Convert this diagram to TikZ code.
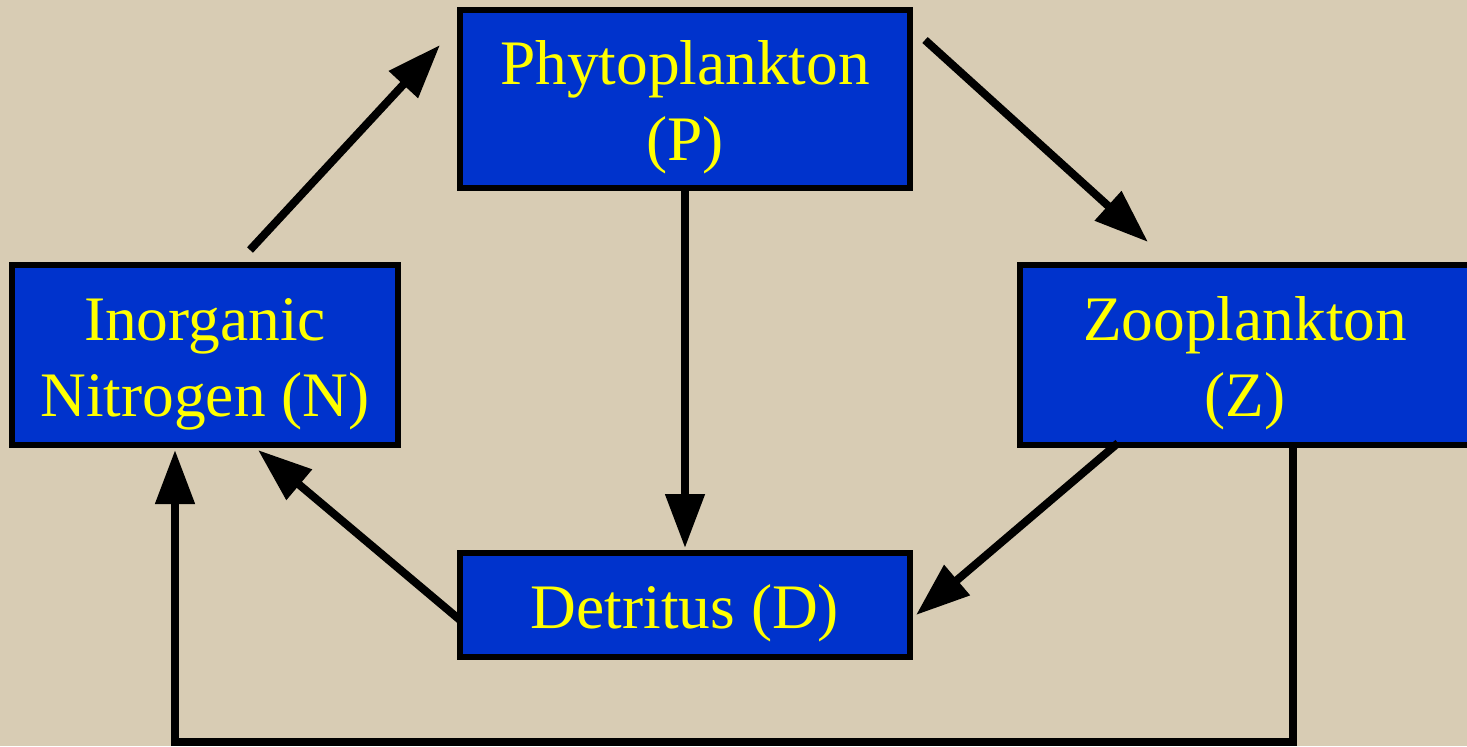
\documentclass[tikz,border=0pt]{standalone}
\usepackage{fontspec}
\setmainfont{Liberation Serif}
\usetikzlibrary{arrows.meta}
\definecolor{bgtan}{HTML}{D8CCB4}
\definecolor{boxblue}{HTML}{0033CC}
\definecolor{txtyellow}{HTML}{FFFF00}
\newcommand\boxlbl[1]{\raisebox{-4pt}[\height][\depth]{\begin{tabular}{@{}c@{}}#1\end{tabular}}}
\tikzset{
  compbox/.style={draw=black, line width=3pt, fill=boxblue, text=txtyellow,
    rectangle, inner sep=0pt, align=center,
    font=\fontsize{31.7}{38}\selectfont},
  flow/.style={draw=black, line width=4pt, -{Triangle[length=27pt,width=19pt]}},
}
\begin{document}
\begin{tikzpicture}[x=0.5pt,y=-0.5pt]
\useasboundingbox (0,0) rectangle (1467,746);
\clip (0,0) rectangle (1467,746);
\fill[bgtan] (0,0) rectangle (1467,746);

\node[compbox, minimum width=225pt, minimum height=89pt] (P) at (685,99) {\boxlbl{Phytoplankton\\(P)}};
\node[compbox, minimum width=193pt, minimum height=90pt] (N) at (205,355) {\boxlbl{Inorganic\\Nitrogen (N)}};
\node[compbox, minimum width=225pt, minimum height=90pt] (Z) at (1245,355) {\boxlbl{Zooplankton\\(Z)}};
\node[compbox, minimum width=225pt, minimum height=52pt] (D) at (685,605) {\boxlbl{Detritus (D)}};

\coordinate (zr) at ([shift={(48,-5)}]Z.south);
\coordinate (nl) at ([shift={(-30,2)}]N.south);
\coordinate (br) at (zr |- 0,742);
\coordinate (bl) at (nl |- 0,742);

\draw[flow] ([shift={(45,-12)}]N.north) -- ([shift={(-17,-54)}]P.west);
\draw[flow] ([shift={(12,-59)}]P.east) -- ([shift={(-97,-20)}]Z.north);
\draw[flow] ([shift={(0,-5)}]P.south) -- ([shift={(0,-2)}]D.north);
\draw[flow] ([shift={(-127,-5)}]Z.south) -- ([shift={(3,10)}]D.east);
\draw[flow] ([shift={(3,15)}]D.west) -- ([shift={(53,2)}]N.south);
\draw[flow] (zr) -- (br) -- (bl) -- (nl);
\end{tikzpicture}
\end{document}
